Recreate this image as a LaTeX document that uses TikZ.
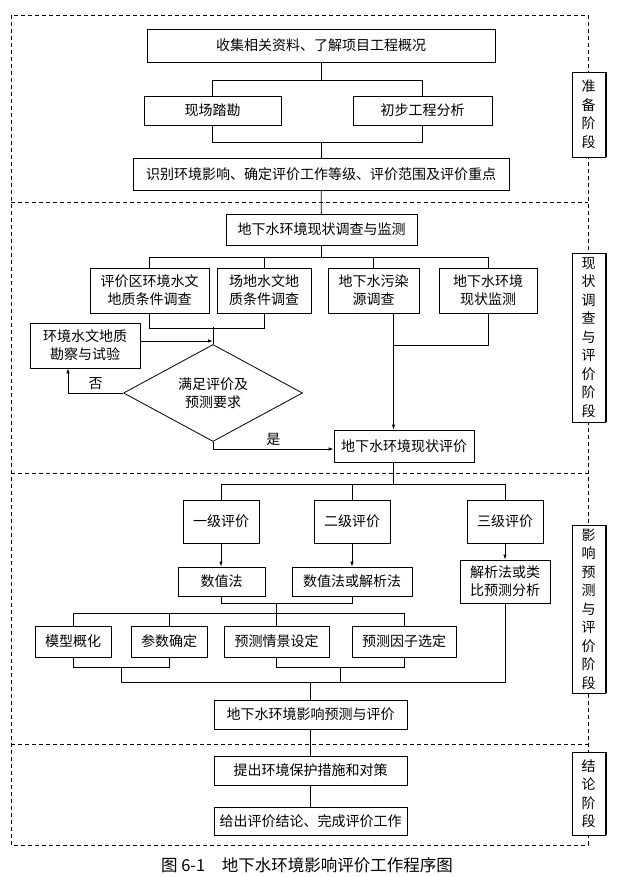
\documentclass[tikz,border=0pt]{standalone}
\usepackage{fontspec}
\setmainfont{Noto Sans CJK SC}
\usetikzlibrary{shapes.geometric,arrows.meta,calc}
\begin{document}
\begin{tikzpicture}[x=1pt,y=-1pt,line width=0.8pt,
        font=\fontsize{14}{18}\selectfont,
        box/.style={draw,fill=white,inner sep=0pt,align=center},
        stage/.style={draw,fill=white,inner sep=0pt,align=center,minimum width=33pt,
            font=\fontsize{14}{18.5}\selectfont},
        stagedash/.style={dash pattern=on 4pt off 3pt,line width=0.6pt},
        arr/.style={-{Latex[length=5pt,width=3.5pt]}}]
    \useasboundingbox (0,0) rectangle (619,877);
    \draw[stagedash] (11,15) rectangle (588,845);
    \foreach \y in {202,473,744}
        \draw[stagedash] (11,\y) -- (588,\y);
    \node[box,minimum width=348pt,minimum height=33pt] (sj) at (321,45.5) {收集相关资料、了解项目工程概况};
    \node[box,minimum width=137pt,minimum height=29pt] (xc) at (212.5,110.5) {现场踏勘};
    \node[box,minimum width=139pt,minimum height=29pt] (cb) at (422.5,110.5) {初步工程分析};
    \node[box,minimum width=376pt,minimum height=32pt] (sb) at (321,174) {识别环境影响、确定评价工作等级、评价范围及评价重点};
    \node[box,minimum width=191pt,minimum height=31pt] (dc) at (321.5,229.5) {地下水环境现状调查与监测};
    \node[box,minimum width=119pt,minimum height=45pt] (r1) at (149.5,290.5) {评价区环境水文\\地质条件调查};
    \node[box,minimum width=94pt,minimum height=45pt] (r2) at (264,290.5) {场地水文地\\质条件调查};
    \node[box,minimum width=91pt,minimum height=45pt] (r3) at (373.5,290.5) {地下水污染\\源调查};
    \node[box,minimum width=98pt,minimum height=45pt] (r4) at (488,290.5) {地下水环境\\现状监测};
    \node[box,minimum width=110pt,minimum height=45pt] (kc) at (85,345.5) {环境水文地质\\勘察与试验};
    \node[diamond,draw,fill=white,aspect=1.85,inner sep=0pt,minimum width=179pt,
        minimum height=97pt,align=center] (pd) at (213,393) {满足评价及\\预测要求};
    \node[box,minimum width=140pt,minimum height=32pt] (xp) at (404,446) {地下水环境现状评价};
    \node[box,minimum width=76pt,minimum height=43pt] (y1) at (221,521.5) {一级评价};
    \node[box,minimum width=76pt,minimum height=43pt] (y2) at (352,521.5) {二级评价};
    \node[box,minimum width=76pt,minimum height=43pt] (y3) at (505,521.5) {三级评价};
    \node[box,minimum width=87pt,minimum height=29pt] (m1) at (221.5,581.5) {数值法};
    \node[box,minimum width=120pt,minimum height=29pt] (m2) at (352,581.5) {数值法或解析法};
    \node[box,minimum width=90pt,minimum height=43pt] (m3) at (505,581.5) {解析法或类\\比预测分析};
    \node[box,minimum width=76pt,minimum height=31pt] (s1) at (73,641.5) {模型概化};
    \node[box,minimum width=76pt,minimum height=31pt] (s2) at (169,641.5) {参数确定};
    \node[box,minimum width=105pt,minimum height=31pt] (s3) at (276.5,641.5) {预测情景设定};
    \node[box,minimum width=104pt,minimum height=31pt] (s4) at (404,641.5) {预测因子选定};
    \node[box,minimum width=193pt,minimum height=29pt] (yc) at (310.5,714.5) {地下水环境影响预测与评价};
    \node[box,minimum width=193pt,minimum height=29pt] (cs) at (310.5,770.5) {提出环境保护措施和对策};
    \node[box,minimum width=193pt,minimum height=28pt] (jl) at (310.5,821) {给出评价结论、完成评价工作};
    \node[stage,minimum height=85pt] (st1) at (588.5,114.5) {准\\备\\阶\\段};
    \node[stage,minimum height=169pt] (st2) at (588.5,337.5) {现\\状\\调\\查\\与\\评\\价\\阶\\段};
    \node[stage,minimum height=168pt] (st3) at (588.5,609) {影\\响\\预\\测\\与\\评\\价\\阶\\段};
    \node[stage,minimum height=83pt] (st4) at (588.5,793.5) {结\\论\\阶\\段};
    \foreach \s in {st1,st2,st3,st4}
        \draw[line width=1.6pt] ([xshift=.4pt]\s.north east) -- ([xshift=.4pt]\s.south east);
    \node (tt) at (307,865) {\fontsize{16.5}{18}\selectfont 图 6-1\quad 地下水环境影响评价工作程序图};
    \draw (sj.south) -- ++(0,18) coordinate (b1);
    \draw (xc.north) |- (b1) -| (cb.north);
    \draw (xc.south) -- ++(0,17) -| (cb.south);
    \draw (sb.north) -- ++(0,-16);
    \draw (sb) -- (dc);
    \draw (dc.south) -- ++(0,12) coordinate (b2);
    \draw (r1.north) |- (b2) -| (r4.north);
    \draw (r2.north) -- (r2.north |- b2);
    \draw (r3.north) -- (r3.north |- b2);
    \draw (r1.south) -- ++(0,15) -| (r2.south);
    \draw (pd.north) -- ++(0,-17);
    \draw[arr] (kc.east |- 0,341) -- (pd.north |- 0,341);
    \draw[arr] (pd.west) -| node[pos=.25,above] (no) {否} ([xshift=-17pt]kc.south);
    \draw[arr] (pd.south) |- node[pos=.75,above] (yes) {是} ([yshift=-3pt]xp.west);
    \coordinate (c1) at ([xshift=20pt]r3.south);
    \draw[arr] (c1) -- (c1 |- xp.north);
    \draw (r4.south) |- ([yshift=-32pt]c1);
    \draw (c1 |- xp.south) -- ++(0,22) coordinate (b4);
    \draw (y1.north) |- (b4) -| (y3.north);
    \draw (y2.north) -- (y2.north |- b4);
    \foreach \a/\b in {y1/m1,y2/m2,y3/m3}
        \draw[arr] (\a.south) -- (\a.south |- \b.north);
    \draw (m1.south) -- ++(0,7) coordinate (b5) -| (m2.south);
    \draw (s3.north |- b5) -- (s3.north);
    \draw (s1.north) -- ++(0,-12) -| (s4.north);
    \draw (s2.north) -- ++(0,-12);
    \draw (s1.south) -- ++(0,10) -| (s2.south);
    \draw (s3.south) -- ++(0,10) -| (s4.south);
    \coordinate (q1) at ($(s1.south)!.5!(s2.south)+(0,10)$);
    \coordinate (q2) at ($(s3.south)!.5!(s4.south)+(0,10)$);
    \draw (q1) -- ++(0,15) -| (m3.south);
    \draw (q2) -- ++(0,15);
    \draw (yc.north) -- ++(0,-18);
    \draw (yc) -- (cs);
    \draw (cs) -- (jl);
\end{tikzpicture}
\end{document}
